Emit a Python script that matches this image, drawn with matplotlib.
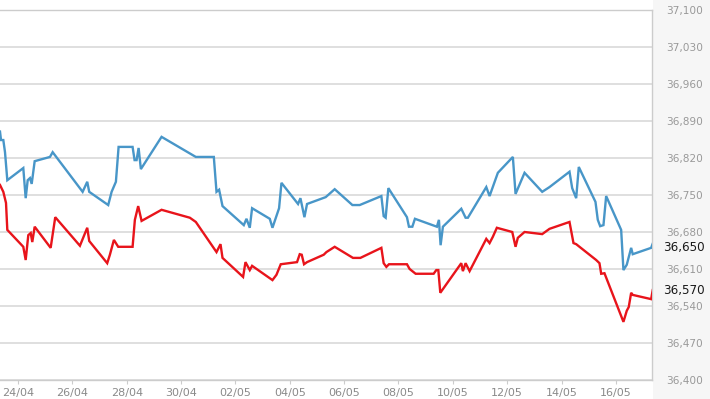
import matplotlib
matplotlib.use("Agg")
import matplotlib.pyplot as plt
from matplotlib.patches import Rectangle

# Days since 24/04 (00:00)
sell_days = [-0.662, -0.625, -0.540, -0.478, -0.393, 0.195, 0.283, 0.357, 0.441, 0.504,
             0.614, 1.176, 1.276, 2.379, 2.548, 2.621, 3.320, 3.445, 3.603, 3.702,
             4.217, 4.290, 4.364, 4.438, 4.522, 5.283, 6.544, 7.206, 7.305, 7.401,
             7.526, 8.309, 8.408, 8.529, 8.614, 9.265, 9.364, 9.607, 9.695, 10.305,
             10.393, 10.540, 10.636, 11.324, 11.654, 12.305, 12.574, 13.371, 13.456, 13.529,
             13.629, 14.313, 14.386, 14.511, 14.607, 15.415, 15.489, 15.551, 15.636, 16.312,
             16.471, 16.555, 17.232, 17.353, 17.658, 18.210, 18.309, 18.640, 19.290, 19.559,
             20.294, 20.393, 20.540, 20.636, 21.250, 21.335, 21.423, 21.544, 21.643, 22.195,
             22.279, 22.401, 22.563, 22.621, 23.298, 23.357]
sell_values = [36870, 36854, 36854, 36831, 36778, 36801, 36744, 36778, 36782, 36771,
               36814, 36822, 36831, 36756, 36775, 36756, 36731, 36756, 36775, 36841,
               36841, 36816, 36816, 36839, 36799, 36860, 36822, 36822, 36756, 36760,
               36729, 36693, 36705, 36688, 36725, 36705, 36688, 36725, 36773, 36733,
               36744, 36708, 36733, 36746, 36761, 36731, 36731, 36748, 36710, 36707,
               36763, 36708, 36690, 36690, 36705, 36690, 36703, 36655, 36690, 36724,
               36707, 36707, 36765, 36748, 36792, 36822, 36752, 36792, 36756, 36765,
               36794, 36763, 36744, 36803, 36737, 36703, 36691, 36693, 36748, 36684,
               36608, 36618, 36650, 36638, 36650, 36658]

buy_days = [-0.662, -0.540, -0.441, -0.393, 0.195, 0.283, 0.379, 0.467, 0.526, 0.614,
            1.202, 1.371, 2.279, 2.548, 2.621, 3.283, 3.382, 3.529, 3.688, 4.217,
            4.301, 4.423, 4.548, 5.283, 6.324, 6.544, 7.305, 7.452, 7.526, 8.283,
            8.371, 8.529, 8.614, 9.364, 9.511, 9.669, 10.268, 10.368, 10.441, 10.526,
            10.636, 11.250, 11.349, 11.654, 12.327, 12.599, 13.371, 13.456, 13.555, 13.651,
            14.313, 14.412, 14.632, 15.294, 15.393, 15.467, 15.540, 16.312, 16.371, 16.471,
            16.618, 17.232, 17.353, 17.474, 17.621, 18.188, 18.309, 18.393, 18.640, 19.290,
            19.559, 20.294, 20.441, 20.540, 20.662, 21.276, 21.397, 21.460, 21.581, 22.279,
            22.401, 22.474, 22.563, 22.621, 23.298, 23.357]
buy_values = [36769, 36756, 36735, 36684, 36652, 36627, 36674, 36678, 36661, 36690,
              36650, 36708, 36654, 36688, 36663, 36621, 36637, 36665, 36652, 36652,
              36703, 36729, 36701, 36722, 36707, 36699, 36642, 36657, 36631, 36595,
              36623, 36608, 36616, 36589, 36599, 36619, 36623, 36638, 36637, 36619,
              36623, 36637, 36642, 36652, 36631, 36631, 36650, 36621, 36614, 36619,
              36619, 36610, 36601, 36601, 36608, 36608, 36565, 36621, 36606, 36621,
              36606, 36667, 36659, 36671, 36688, 36680, 36652, 36669, 36680, 36676,
              36686, 36699, 36659, 36657, 36652, 36627, 36621, 36601, 36602, 36510,
              36531, 36538, 36565, 36561, 36553, 36570]

x_tick_days = [0, 2, 4, 6, 8, 10, 12, 14, 16, 18, 20, 22]
x_tick_labels = ["24/04", "26/04", "28/04", "30/04", "02/05", "04/05",
                 "06/05", "08/05", "10/05", "12/05", "14/05", "16/05"]
y_ticks = [36400, 36470, 36540, 36610, 36680, 36750, 36820, 36890, 36960, 37030, 37100]
last_sell_label = "36,650"
last_sell_value = 36650
last_buy_label = "36,570"
last_buy_value = 36570

W, H = 710, 399
fig = plt.figure(figsize=(W / 100, H / 100), dpi=100)
fig.patch.set_facecolor("white")
fig.patches.append(Rectangle((653 / W, 0), 1 - 653 / W, 1, transform=fig.transFigure,
                             facecolor="#f6f6f6", edgecolor="none", zorder=-5))

ax = fig.add_axes([0, 19 / H, 652 / W, 370 / H])
ax.set_zorder(1)
ax.set_facecolor("white")
ax.set_xlim(-0.662, 23.33)
ax.set_ylim(36400, 37100)

for yv in y_ticks:
    ax.axhline(yv, color="#d9d9d9", lw=1.2, zorder=1)

ax.plot(sell_days, sell_values, color="#4896c8", lw=1.7, zorder=3, solid_joinstyle="miter")
ax.plot(buy_days, buy_values, color="#e8141b", lw=1.7, zorder=3, solid_joinstyle="miter")

for s in ax.spines.values():
    s.set_color("#cccccc")
    s.set_linewidth(1.0)
ax.spines["left"].set_visible(False)

ax.set_xticks(x_tick_days)
ax.set_xticklabels(x_tick_labels)
ax.tick_params(axis="x", direction="out", length=3, color="#cccccc",
               labelsize=8, labelcolor="#8a8a8a", pad=3)

ax.yaxis.tick_right()
ax.set_yticks(y_ticks)
ax.set_yticklabels([f"{v:,}" for v in y_ticks])
ax.tick_params(axis="y", which="both", right=True, labelright=True, left=False,
               labelleft=False, length=0, labelsize=7.6, labelcolor="#999999", pad=10)

lx = 1.0 + 11 / 652
ax.text(lx, last_sell_value, last_sell_label, transform=ax.get_yaxis_transform(),
        ha="left", va="center", fontsize=8.6, color="#1a1a1a", zorder=5,
        bbox=dict(facecolor="#f6f6f6", edgecolor="none", pad=0.5), clip_on=False)
ax.text(lx, last_buy_value, last_buy_label, transform=ax.get_yaxis_transform(),
        ha="left", va="center", fontsize=8.6, color="#1a1a1a", zorder=5,
        bbox=dict(facecolor="#f6f6f6", edgecolor="none", pad=0.5), clip_on=False)

fig.savefig("out.png", dpi=100, facecolor=fig.get_facecolor())
